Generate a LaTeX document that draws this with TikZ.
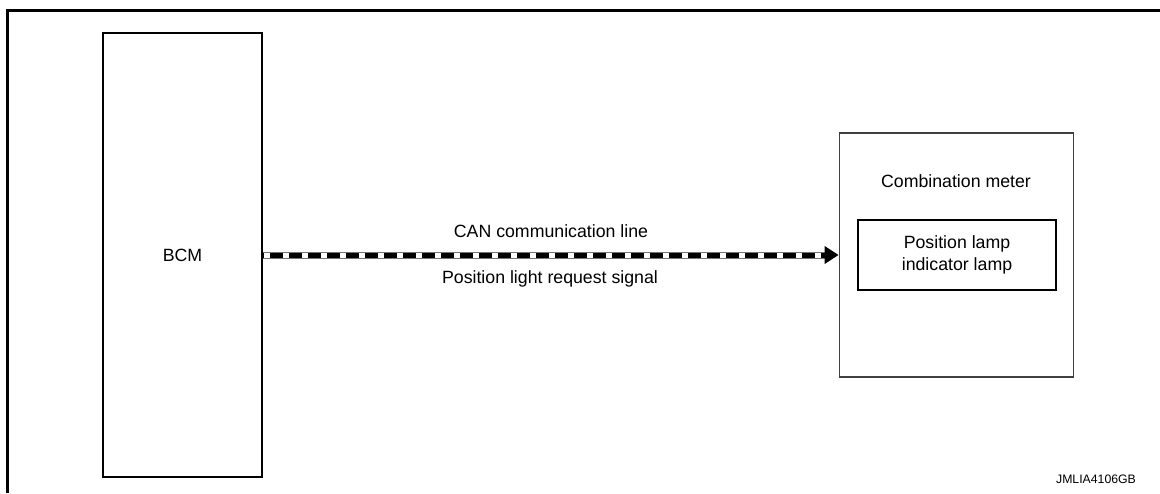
\documentclass[tikz,border=0pt]{standalone}
\usepackage{fontspec}
\setmainfont{Liberation Sans}
\usepackage{tikz}
\usetikzlibrary{arrows.meta, positioning}

\begin{document}
\begin{tikzpicture}[
  x=0.75pt, y=-0.75pt,
  unit/.style={draw, line width=0.8pt, font=\fontsize{13.3}{16}\selectfont, inner sep=0pt},
  lbl/.style={font=\fontsize{13.3}{16}\selectfont, inner sep=0pt},
  code/.style={font=\fontsize{9.2}{11}\selectfont, inner sep=0pt}
]
  \useasboundingbox (0,0) rectangle (1160,493);
  % frame
  \draw[line width=2.4pt] (7.5,493) -- (7.5,10.5) -- (1160,10.5);

  \node[unit, minimum width=119.25pt, minimum height=333pt] (bcm) at (182.5,255) {BCM};
  \node[unit, draw=black!75, minimum width=176pt, minimum height=183pt] (meter) at (956.5,255) {};
  \node[lbl] (metername) at (956,181) {Combination meter};
  \node[unit, align=center, minimum width=148.5pt, minimum height=52.5pt] (lamp) at (957,255)
    {Position lamp\\indicator lamp};

  % CAN line
  \coordinate (base) at ([xshift=-10.5pt]meter.west);
  \draw[black!55, line width=5.25pt] (bcm.east) -- (base);
  \draw[line width=3.75pt, -{Triangle[length=10.5pt, width=12.75pt]}] (bcm.east) -- (meter.west);
  \draw[white, line width=3.75pt, dash pattern=on 4.5pt off 9.75pt] ([xshift=1pt]bcm.east) -- (base);
  \node[lbl] (canname) at (551,231) {CAN communication line};
  \node[lbl] (signame) at (550,279) {Position light request signal};

  \node[code] (ref) at (1096,479) {JMLIA4106GB};
\end{tikzpicture}
\end{document}
